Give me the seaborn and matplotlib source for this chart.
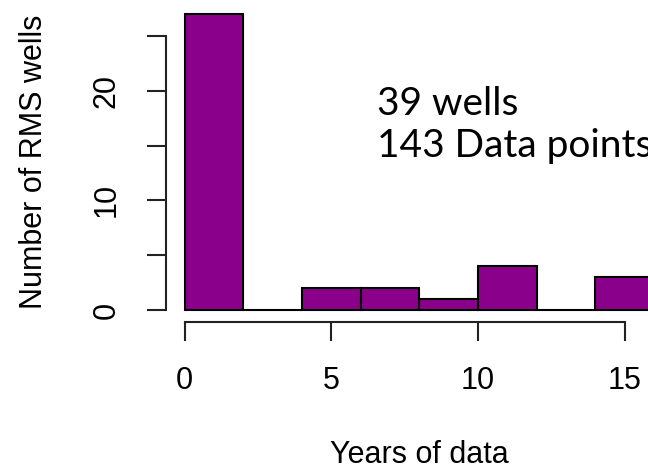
import matplotlib
matplotlib.use("Agg")
import matplotlib.pyplot as plt
import seaborn as sns

# Histogram of years of data per well (bins of 2 years)
bin_edges = [0, 2, 4, 6, 8, 10, 12, 14, 16]
well_counts = [27, 0, 2, 2, 1, 4, 0, 3]
bin_mids = [(a + b) / 2 for a, b in zip(bin_edges[:-1], bin_edges[1:])]

x_ticks = [0, 5, 10, 15]
y_ticks = [0, 5, 10, 15, 20, 25]
y_tick_labels = ["0", "", "10", "", "20", ""]
note_lines = ["39 wells", "143 Data points"]

sns.set_style("white")
plt.rcParams['font.family'] = ['Liberation Sans', 'DejaVu Sans']

W, H = 648, 475
fig = plt.figure(figsize=(W / 100, H / 100), dpi=100)
# plot region placed like the R device (cropped on the right)
ax = fig.add_axes([166 / W, (H - 322) / H, (W - 166) / W, 320 / H])

sns.histplot(x=bin_mids, weights=well_counts, bins=bin_edges,
             color='#8B008B', alpha=1, edgecolor='black', linewidth=1.5, ax=ax)

ax.set_xlim(-0.64, 15.80)
ax.set_ylim(-1.08, 28.08)

# R-style detached axes
for side in ['top', 'right']:
    ax.spines[side].set_visible(False)
ax.spines['left'].set_bounds(0, 25)
ax.spines['bottom'].set_bounds(0, 15)
for side in ['left', 'bottom']:
    ax.spines[side].set_linewidth(1.5)
    ax.spines[side].set_color('#222222')

ax.set_xticks(x_ticks)
ax.set_yticks(y_ticks, y_tick_labels, rotation=90, va='center')
ax.tick_params(axis='both', direction='out', length=13.7, width=1.5,
               color='#222222', labelsize=22, pad=18, labelcolor='black',
               left=True, bottom=True)

ax.set_xlabel("Years of data", fontsize=22, color='black')
xmin, xmax = ax.get_xlim()
ax.xaxis.set_label_coords((8.0 - xmin) / (xmax - xmin), -0.37)
ax.set_ylabel("Number of RMS wells", fontsize=22, color='black')
ax.yaxis.set_label_coords(-0.243, 0.5)

# annotation
ax.text(6.55, 17.8, note_lines[0], family=['Lato', 'DejaVu Sans'],
        fontsize=28, va='baseline', ha='left', color='black')
ax.text(6.55, 13.96, note_lines[1], family=['Lato', 'DejaVu Sans'],
        fontsize=28, va='baseline', ha='left', color='black', clip_on=False)

fig.savefig('out.png', dpi=100)
